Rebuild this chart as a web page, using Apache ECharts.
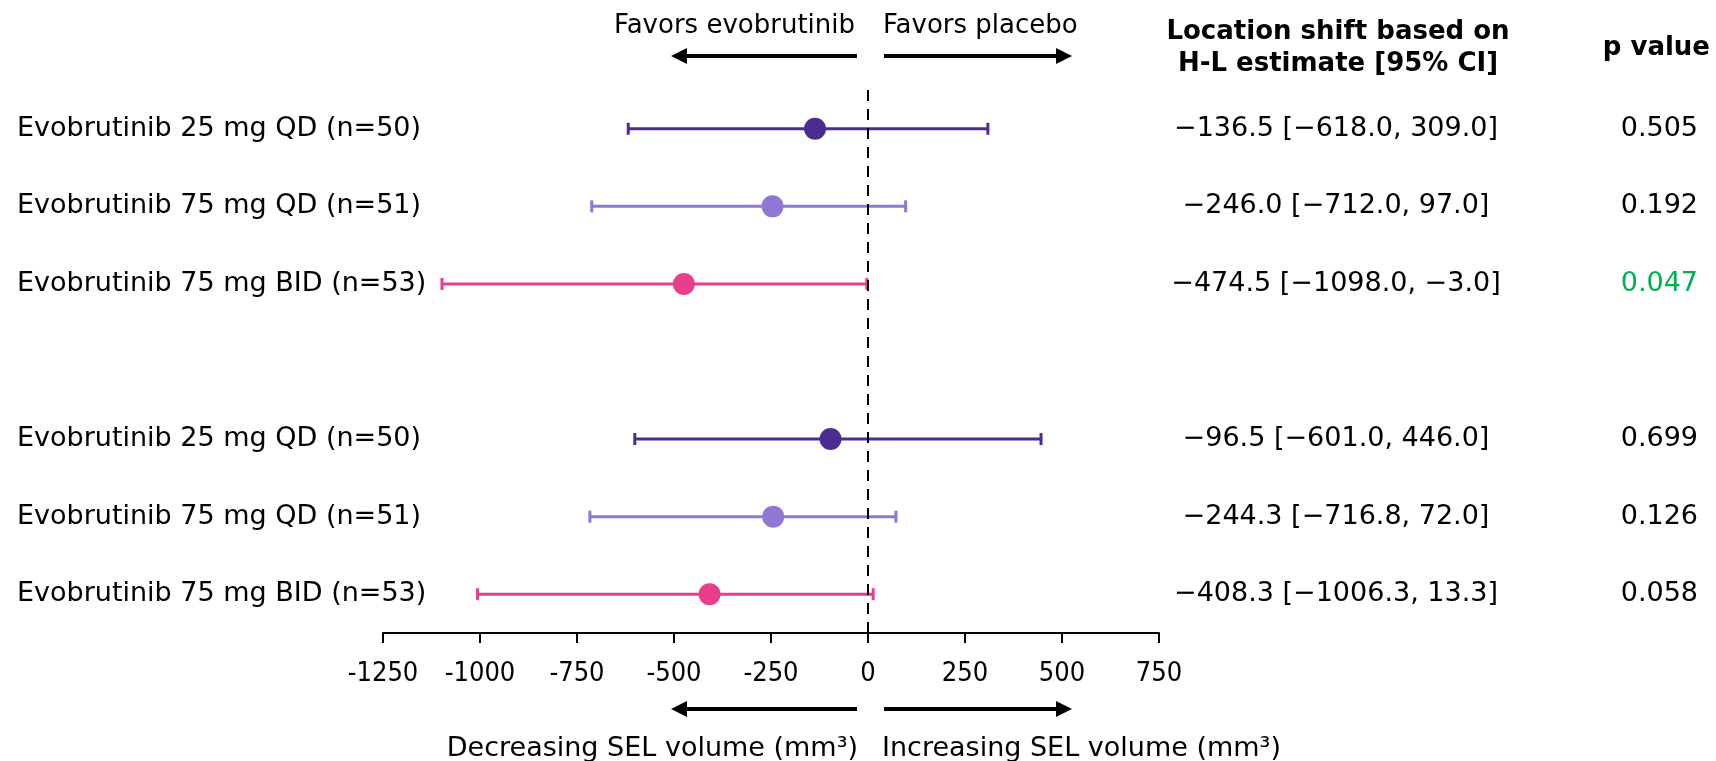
<!DOCTYPE html>
<html>
<head>
<meta charset="utf-8">
<script src="https://cdn.jsdelivr.net/npm/echarts@6/dist/echarts.min.js"></script>
<style>
	html, body { margin: 0; padding: 0; background: #fff; }
	#chart { width: 1716px; height: 761px; }
</style>
</head>
<body>
<div id="chart"></div>
<script>
// 行标签，空串为两组之间的空行
var rowLabels = [
	'Evobrutinib 25 mg QD (n=50)',
	'Evobrutinib 75 mg QD (n=51)',
	'Evobrutinib 75 mg BID (n=53)',
	'',
	'Evobrutinib 25 mg QD (n=50)',
	'Evobrutinib 75 mg QD (n=51)',
	'Evobrutinib 75 mg BID (n=53)'
];
var estimates = [-136.5, -246.0, -474.5, null, -96.5, -244.3, -408.3];
var ciLow = [-618.0, -712.0, -1098.0, null, -601.0, -716.8, -1006.3];
var ciHigh = [309.0, 97.0, -3.0, null, 446.0, 72.0, 13.3];
var pValues = ['0.505', '0.192', '0.047', '', '0.699', '0.126', '0.058'];
var xTicks = [-1250, -1000, -750, -500, -250, 0, 250, 500, 750];

var rowColors = ['#4b2c91', '#9077d3', '#e83e8c', '#000', '#4b2c91', '#9077d3', '#e83e8c'];
var pColors = ['#000', '#000', '#00b050', '#000', '#000', '#000', '#000'];
var font = 'DejaVu Sans';

function fmt(v) {
	return v.toFixed(1).replace('-', '\u2212');
}

// 右侧 H-L 估计文字由数据生成
var estLabels = rowLabels.map(function (l, i) {
	if (estimates[i] == null) return '';
	return fmt(estimates[i]) + ' [' + fmt(ciLow[i]) + ', ' + fmt(ciHigh[i]) + ']';
});

var pointData = [], barData = [];
for (var i = 0; i < rowLabels.length; i++) {
	if (estimates[i] == null) continue;
	pointData.push([estimates[i], i]);
	barData.push([ciLow[i], ciHigh[i], i]);
}

var myChart = echarts.init(document.getElementById('chart'));

function arrow(x1, x2, y) {
	var dir = x2 > x1 ? 1 : -1;
	var head = 16;
	return [
		{
			type: 'line',
			shape: { x1: x1, y1: y, x2: x2 - dir * head, y2: y },
			style: { stroke: '#000', lineWidth: 4 }
		},
		{
			type: 'polygon',
			shape: { points: [[x2, y], [x2 - dir * head, y - 8], [x2 - dir * head, y + 8]] },
			style: { fill: '#000' }
		}
	];
}

var txt = { fontFamily: font, fontSize: 26, fill: '#000' };
var bold = { fontFamily: font, fontSize: 26, fill: '#000', fontWeight: 'bold' };

var graphics = [].concat(
	arrow(857, 671, 56),
	arrow(884, 1072, 56),
	arrow(857, 671, 709),
	arrow(884, 1072, 709),
	[
		{ type: 'text', x: 855, y: 26, style: Object.assign({ text: 'Favors evobrutinib', align: 'right', verticalAlign: 'middle' }, txt) },
		{ type: 'text', x: 883, y: 26, style: Object.assign({ text: 'Favors placebo', align: 'left', verticalAlign: 'middle' }, txt) },
		{ type: 'text', x: 858, y: 749, style: Object.assign({ text: 'Decreasing SEL volume (mm\u00b3)', align: 'right', verticalAlign: 'middle' }, txt, { fontSize: 27 }) },
		{ type: 'text', x: 882, y: 749, style: Object.assign({ text: 'Increasing SEL volume (mm\u00b3)', align: 'left', verticalAlign: 'middle' }, txt, { fontSize: 27 }) },
		{ type: 'text', x: 1338, y: 32, style: Object.assign({ text: 'Location shift based on', align: 'center', verticalAlign: 'middle' }, bold) },
		{ type: 'text', x: 1338, y: 64, style: Object.assign({ text: 'H-L estimate [95% CI]', align: 'center', verticalAlign: 'middle' }, bold) },
		{ type: 'text', x: 1710, y: 48, style: Object.assign({ text: 'p value', align: 'right', verticalAlign: 'middle' }, bold) }
	]
);

var option = {
	animation: false,
	grid: { left: 383, right: 557, top: 90, bottom: 128 },
	xAxis: {
		type: 'value',
		min: -1250,
		max: 750,
		interval: 250,
		axisLine: { show: true, lineStyle: { color: '#000', width: 2 } },
		axisTick: { show: true, length: 10, lineStyle: { color: '#000', width: 2 } },
		axisLabel: {
			color: '#000',
			fontFamily: 'DejaVu Sans Condensed',
			fontSize: 27,
			margin: 27,
			formatter: function (v) { return xTicks.indexOf(v) >= 0 ? String(v) : ''; }
		},
		splitLine: { show: false }
	},
	yAxis: [
		{
			type: 'category',
			inverse: true,
			data: rowLabels,
			axisLine: { show: false },
			axisTick: { show: false },
			axisLabel: { align: 'left', margin: 366, color: '#000', fontFamily: font, fontSize: 27 }
		},
		{
			type: 'category',
			inverse: true,
			position: 'right',
			data: estLabels,
			axisLine: { show: false },
			axisTick: { show: false },
			axisLabel: { align: 'center', margin: 177, color: '#000', fontFamily: font, fontSize: 27 }
		},
		{
			type: 'category',
			inverse: true,
			position: 'right',
			data: pValues,
			axisLine: { show: false },
			axisTick: { show: false },
			axisLabel: {
				align: 'right', margin: 539, fontFamily: font, fontSize: 27,
				color: function (v, idx) { return pColors[idx]; }
			}
		}
	],
	graphic: graphics,
	series: [
		{
			type: 'custom',
			data: barData,
			encode: { x: [0, 1], y: 2 },
			renderItem: function (params, api) {
				var row = api.value(2);
				var p1 = api.coord([api.value(0), row]);
				var p2 = api.coord([api.value(1), row]);
				var c = rowColors[row];
				var cap = 6;
				var st = { stroke: c, lineWidth: 3 };
				return {
					type: 'group',
					children: [
						{ type: 'line', shape: { x1: p1[0], y1: p1[1], x2: p2[0], y2: p2[1] }, style: st },
						{ type: 'line', shape: { x1: p1[0], y1: p1[1] - cap, x2: p1[0], y2: p1[1] + cap }, style: st },
						{ type: 'line', shape: { x1: p2[0], y1: p2[1] - cap, x2: p2[0], y2: p2[1] + cap }, style: st }
					]
				};
			},
			z: 2
		},
		{
			type: 'scatter',
			data: pointData,
			symbol: 'circle',
			symbolSize: 22,
			itemStyle: {
				opacity: 1,
				color: function (p) { return rowColors[p.data[1]]; }
			},
			z: 3,
			markLine: {
				silent: true,
				symbol: 'none',
				label: { show: false },
				lineStyle: { color: '#000', width: 2, type: [11, 8] },
				data: [{ xAxis: 0 }]
			}
		}
	]
};

myChart.setOption(option);
</script>
</body>
</html>
